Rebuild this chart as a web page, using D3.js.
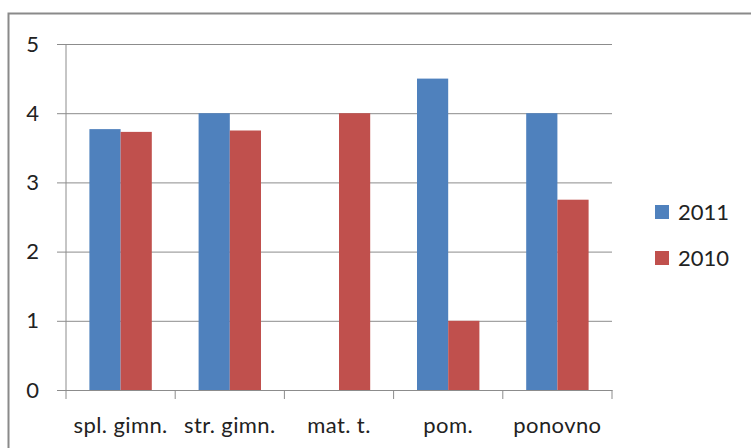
<!DOCTYPE html>
<html><head><meta charset="utf-8">
<script src="https://cdn.jsdelivr.net/npm/d3@7"></script>
<style>html,body{margin:0;padding:0;background:#fff;overflow:hidden}</style>
</head><body>
<svg id="c" width="751" height="448"></svg>
<script>
const categories = ["spl. gimn.", "str. gimn.", "mat. t.", "pom.", "ponovno"];
const seriesNames = ["2011", "2010"];
const values2011 = [3.77, 4.0, 0, 4.5, 4.0];
const values2010 = [3.73, 3.75, 4.0, 1.0, 2.75];
const yTicks = [0, 1, 2, 3, 4, 5];
const colors = ["#4F81BD", "#C0504D"];

const svg = d3.select("#c");
const font = "Lato, 'Open Sans', sans-serif";

// chart border
svg.append("rect").attr("x", 8.5).attr("y", 13.5).attr("width", 800).attr("height", 500)
  .attr("fill", "#fff").attr("stroke", "#8a8a8a").attr("stroke-width", 2);

const L = 66, R = 612, T = 44, B = 390;
const x0 = d3.scaleBand().domain(categories).range([L, R]).paddingInner(0).paddingOuter(0);
const y = d3.scaleLinear().domain([0, 5]).range([B, T]);
const gapFrac = 1.5;
const bw = x0.bandwidth() / (2 + gapFrac);
const x1 = d3.scaleBand().domain(seriesNames).range([bw * gapFrac / 2, bw * gapFrac / 2 + 2 * bw]).padding(0);

// gridlines with y axis
const yAxis = d3.axisLeft(y).tickValues(yTicks).tickFormat(d3.format("d"))
  .tickSize(-(R - L)).tickSizeOuter(0).tickPadding(27);
const gy = svg.append("g").attr("transform", `translate(${L},0)`).call(yAxis);
gy.select(".domain").remove();
gy.selectAll(".tick line").attr("stroke", "#8c8c8c").attr("stroke-width", 1).attr("x1", -9);
gy.selectAll(".tick text").attr("font-family", font).attr("font-size", 22).attr("fill", "#222");

// bars
const data = categories.map((c, i) => ({c, vals: [values2011[i], values2010[i]]}));
const groups = svg.append("g").selectAll("g").data(data).join("g")
  .attr("transform", d => `translate(${x0(d.c)},0)`);
groups.selectAll("rect").data(d => d.vals.map((v, j) => ({v, s: seriesNames[j], j})).filter(e => e.v > 0))
  .join("rect")
  .attr("x", e => x1(e.s)).attr("width", x1.bandwidth())
  .attr("y", e => y(e.v)).attr("height", e => B - y(e.v))
  .attr("fill", e => colors[e.j]);

// x axis
const xAxis = d3.axisBottom(x0).tickSize(0).tickPadding(27);
const gx = svg.append("g").attr("transform", `translate(0,${B})`).call(xAxis);
gx.select(".domain").attr("stroke", "#8c8c8c");
gx.selectAll(".tick text").attr("font-family", font).attr("font-size", 22)
  .attr("letter-spacing", 0.4).attr("fill", "#222");
// category boundary ticks
const bounds = categories.map(c => x0(c)).concat([R]);
svg.append("g").selectAll("line").data(bounds).join("line")
  .attr("x1", d => d).attr("x2", d => d).attr("y1", B).attr("y2", B + 9)
  .attr("stroke", "#8c8c8c");
// y axis line
svg.append("line").attr("x1", L).attr("x2", L).attr("y1", T).attr("y2", B)
  .attr("stroke", "#8c8c8c");

// legend
const leg = svg.append("g").selectAll("g").data(seriesNames).join("g")
  .attr("transform", (d, i) => `translate(655,${212 + i * 46})`);
leg.append("rect").attr("x", 0).attr("y", -7).attr("width", 14).attr("height", 14)
  .attr("fill", (d, i) => colors[i]);
leg.append("text").attr("x", 23).attr("y", 0).attr("dy", "0.35em")
  .attr("font-family", font).attr("font-size", 22).attr("fill", "#222").text(d => d);
</script>
</body></html>
